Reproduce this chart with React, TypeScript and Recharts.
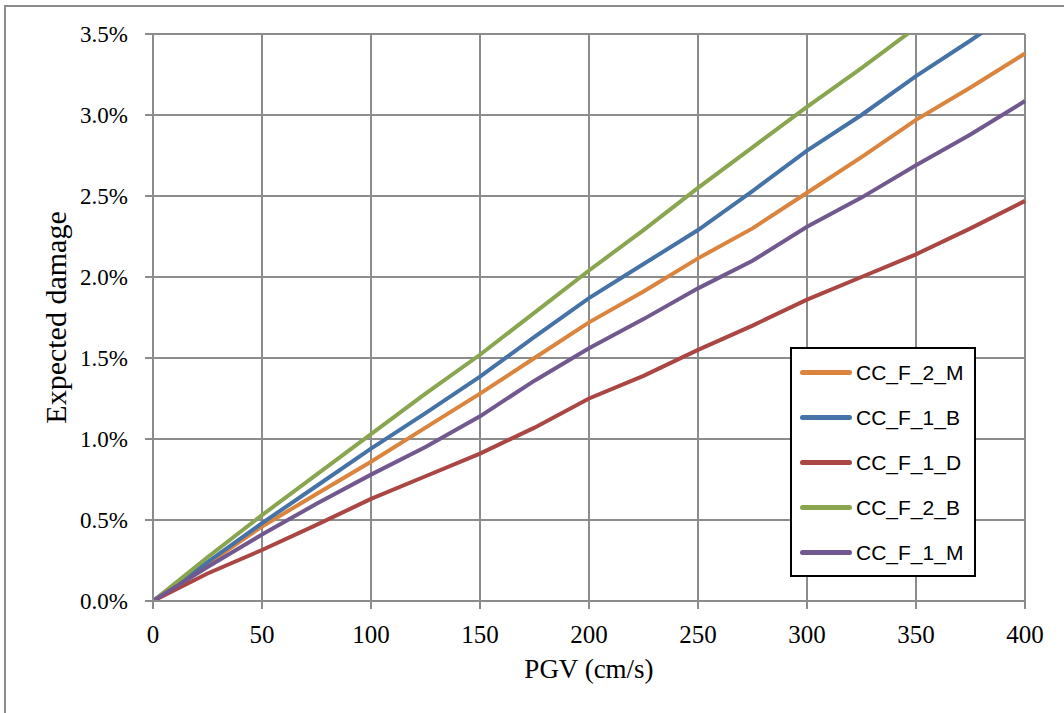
import { LineChart, Line, XAxis, YAxis, CartesianGrid } from 'recharts'

// PGV (cm/s) sample points
const pgv = [0, 25, 50, 75, 100, 125, 150, 175, 200, 225, 250, 275, 300, 325, 350, 375, 400]

// expected damage, in %
const ccF2M = [0, 0.23, 0.46, 0.66, 0.86, 1.07, 1.28, 1.5, 1.72, 1.91, 2.115, 2.3, 2.52, 2.74, 2.97, 3.17, 3.38]
const ccF1B = [0, 0.24, 0.48, 0.71, 0.94, 1.16, 1.385, 1.63, 1.87, 2.08, 2.29, 2.53, 2.78, 3.0, 3.24, 3.46, 3.69]
const ccF1D = [0, 0.17, 0.315, 0.47, 0.63, 0.77, 0.91, 1.07, 1.25, 1.39, 1.55, 1.7, 1.86, 2.0, 2.14, 2.3, 2.47]
const ccF2B = [0, 0.27, 0.53, 0.78, 1.03, 1.28, 1.52, 1.78, 2.04, 2.29, 2.55, 2.8, 3.05, 3.29, 3.54, 3.78, 4.02]
const ccF1M = [0, 0.21, 0.41, 0.6, 0.78, 0.95, 1.14, 1.36, 1.56, 1.74, 1.93, 2.1, 2.31, 2.49, 2.69, 2.88, 3.086]

const xTicks = [0, 50, 100, 150, 200, 250, 300, 350, 400]
const yTicks = [0, 0.5, 1.0, 1.5, 2.0, 2.5, 3.0, 3.5]

const SERIES = [
  { key: 'CC_F_2_M', values: ccF2M, color: '#DB843D' },
  { key: 'CC_F_1_B', values: ccF1B, color: '#4572A7' },
  { key: 'CC_F_1_D', values: ccF1D, color: '#AA4643' },
  { key: 'CC_F_2_B', values: ccF2B, color: '#89A54E' },
  { key: 'CC_F_1_M', values: ccF1M, color: '#71588F' },
]

const data = pgv.map((x, i) => {
  const row: Record<string, number> = { pgv: x }
  SERIES.forEach((s) => { row[s.key] = s.values[i] })
  return row
})

const GRID = '#8c8c8c'
const SERIF = '"Liberation Serif", "Times New Roman", serif'

function YTitle({ viewBox }: any) {
  const cx = viewBox.x + 55
  const cy = viewBox.y + viewBox.height / 2
  return (
    <text
      x={cx}
      y={cy}
      transform={`rotate(-90 ${cx} ${cy})`}
      textAnchor="middle"
      dominantBaseline="central"
      fontFamily={SERIF}
      fontSize={30}
      fill="#000"
    >
      Expected damage
    </text>
  )
}

function BoxLegend() {
  return (
    <div
      style={{
        position: 'absolute',
        left: 790,
        top: 347,
        border: '2px solid #000',
        background: '#fff',
        width: 182,
        height: 225,
        paddingTop: 1,
      }}
    >
      {SERIES.map((s) => (
        <div key={s.key} style={{ display: 'flex', alignItems: 'center', height: 45 }}>
          <div
            style={{
              marginLeft: 8,
              width: 52,
              height: 5,
              borderRadius: 3,
              background: s.color,
            }}
          />
          <span
            style={{
              marginLeft: 4,
              fontFamily: '"Liberation Sans", Arial, sans-serif',
              fontSize: 21,
              color: '#000',
            }}
          >
            {s.key}
          </span>
        </div>
      ))}
    </div>
  )
}

export default function App() {
  return (
    <div style={{ position: 'absolute', left: 0, top: 0, width: 1064, height: 713, background: '#fff', overflow: 'hidden' }}>
      <div
        style={{
          position: 'absolute',
          left: 4,
          top: 5,
          right: 0,
          bottom: 0,
          borderLeft: '2px solid #8c8c8c',
          borderTop: '2px solid #8c8c8c',
        }}
      />
      <div style={{ position: 'absolute', left: 0, top: 0 }}>
        <LineChart
          width={1064}
          height={713}
          data={data}
          margin={{ top: 34, right: 39, bottom: 0, left: 0 }}
        >
          <CartesianGrid stroke={GRID} strokeWidth={2} />
          <XAxis
            dataKey="pgv"
            type="number"
            domain={[0, 400]}
            ticks={xTicks}
            height={112}
            tickSize={8}
            tickMargin={16}
            stroke={GRID}
            strokeWidth={2}
            tick={{ fill: '#000', fontSize: 25, fontFamily: SERIF }}
            label={{ value: 'PGV (cm/s)', position: 'insideBottom', offset: 35, fill: '#000', fontSize: 27, fontFamily: SERIF }}
          />
          <YAxis
            type="number"
            domain={[0, 3.5]}
            ticks={yTicks}
            allowDataOverflow
            width={153}
            tickSize={8}
            tickMargin={17}
            stroke={GRID}
            strokeWidth={2}
            tickFormatter={(v: number) => v.toFixed(1) + '%'}
            tick={{ fill: '#000', fontSize: 23, fontFamily: SERIF }}
            label={<YTitle />}
          />
          {SERIES.map((s) => (
            <Line
              key={s.key}
              dataKey={s.key}
              type="linear"
              stroke={s.color}
              strokeWidth={4}
              dot={false}
              activeDot={false}
              isAnimationActive={false}
            />
          ))}
        </LineChart>
      </div>
      <BoxLegend />
    </div>
  )
}
